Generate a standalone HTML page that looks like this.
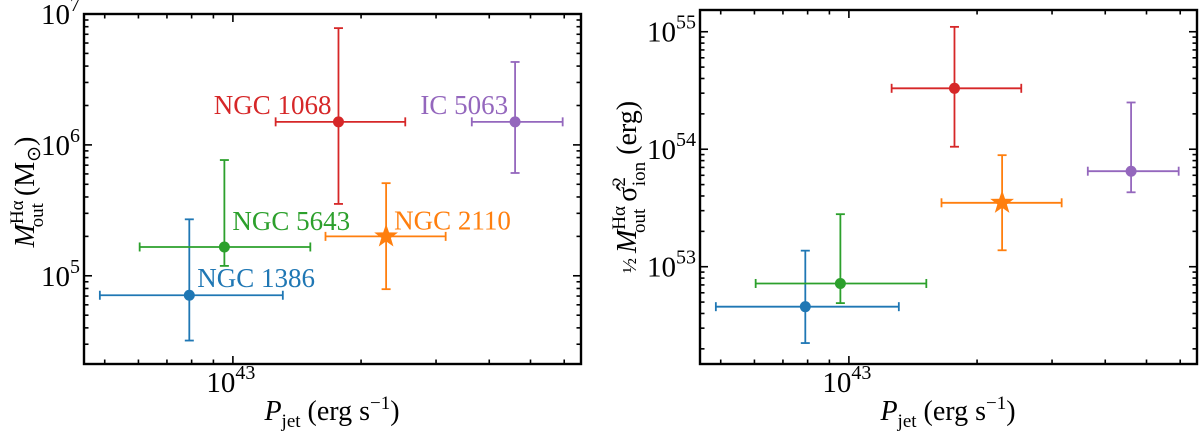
<!DOCTYPE html>
<html><head><meta charset="utf-8">
<style>
html,body{margin:0;padding:0;background:#fff;}
svg{display:block;font-family:"Liberation Serif",serif;}
</style></head>
<body>
<svg id="fig" width="1200" height="438" viewBox="0 0 1200 438" xmlns="http://www.w3.org/2000/svg">
  <g id="left"></g>
  <g id="right"></g>
  <text transform="translate(34,192) rotate(-90)" text-anchor="middle" font-size="28"><tspan font-style="italic">M</tspan><tspan font-size="19" dy="-11">Hα</tspan><tspan font-size="19" dx="-27" dy="20">out</tspan><tspan dy="-9"> (M</tspan><tspan font-size="19" dy="6">⊙</tspan><tspan dy="-6">)</tspan></text>
  <text x="332" y="420" text-anchor="middle" font-size="28"><tspan font-style="italic">P</tspan><tspan font-size="19" dy="7">jet</tspan><tspan dy="-7"> (erg s</tspan><tspan font-size="19" dy="-11">−1</tspan><tspan dy="11">)</tspan></text>
  <text transform="translate(636,187) rotate(-90)" text-anchor="middle" font-size="28"><tspan font-size="20">½ </tspan><tspan font-style="italic">M</tspan><tspan font-size="19" dy="-11">Hα</tspan><tspan font-size="19" dx="-27" dy="20">out</tspan><tspan dy="-9"> σ̂</tspan><tspan font-size="19" dy="-11">2</tspan><tspan font-size="19" dx="-9" dy="20">ion</tspan><tspan dy="-9"> (erg)</tspan></text>
  <text x="948" y="420" text-anchor="middle" font-size="28"><tspan font-style="italic">P</tspan><tspan font-size="19" dy="7">jet</tspan><tspan dy="-7"> (erg s</tspan><tspan font-size="19" dy="-11">−1</tspan><tspan dy="11">)</tspan></text>
</svg>
<script>
// ---- data ----
const galaxies = ["NGC 1386","NGC 5643","NGC 1068","NGC 2110","IC 5063"];
const colors = ["#1f77b4","#2ca02c","#d62728","#ff7f0e","#9467bd"];
const pjet = [7.9e42, 9.55e42, 1.77e43, 2.29e43, 4.6e43];
const pjetLo = [4.87e42, 6.04e42, 1.26e43, 1.65e43, 3.64e43];
const pjetHi = [1.31e43, 1.52e43, 2.54e43, 3.16e43, 5.95e43];
const mass = [7.1e4, 1.66e5, 1.5e6, 2.0e5, 1.5e6];
const massLo = [3.2e4, 1.19e5, 3.54e5, 7.9e4, 6.1e5];
const massHi = [2.7e5, 7.66e5, 7.8e6, 5.1e5, 4.3e6];
const energy = [4.57e52, 7.2e52, 3.3e54, 3.5e53, 6.5e53];
const energyLo = [2.24e52, 4.9e52, 1.05e54, 1.38e53, 4.3e53];
const energyHi = [1.37e53, 2.8e53, 1.1e55, 8.9e53, 2.5e54];
const markers = ["o","o","o","*","o"];
const xTickExps = [43];
const leftYTickExps = [5,6,7];
const rightYTickExps = [53,54,55];

const NS="http://www.w3.org/2000/svg";
function mk(tag, attrs, parent){const e=document.createElementNS(NS,tag);for(const k in attrs)e.setAttribute(k,attrs[k]);parent.appendChild(e);return e;}

function panel(g, box, xr, yr, ys, yLo, yHi, yExps, labels){
  const sx=v=>box.x0+(Math.log10(v)-xr[0])/(xr[1]-xr[0])*(box.x1-box.x0);
  const sy=v=>box.y1-(Math.log10(v)-yr[0])/(yr[1]-yr[0])*(box.y1-box.y0);
  const tg=mk('g',{},g);
  
  
  for(let d=Math.floor(xr[0]);d<=Math.ceil(xr[1]);d++){
    for(let m=1;m<10;m++){
      const v=m*Math.pow(10,d), lv=Math.log10(v);
      if(lv<xr[0]||lv>xr[1])continue;
      const x=sx(v), L=m===1?8:4.5;
      mk('line',{x1:x,x2:x,y1:box.y1,y2:box.y1-L,stroke:'#000','stroke-width':1.6},tg);
      mk('line',{x1:x,x2:x,y1:box.y0,y2:box.y0+L,stroke:'#000','stroke-width':1.6},tg);
    }
  }
  for(let d=Math.floor(yr[0]);d<=Math.ceil(yr[1]);d++){
    for(let m=1;m<10;m++){
      const v=m*Math.pow(10,d), lv=Math.log10(v);
      if(lv<yr[0]||lv>yr[1])continue;
      const y=sy(v), L=m===1?8:4.5;
      mk('line',{x1:box.x0,x2:box.x0+L,y1:y,y2:y,stroke:'#000','stroke-width':1.6},tg);
      mk('line',{x1:box.x1,x2:box.x1-L,y1:y,y2:y,stroke:'#000','stroke-width':1.6},tg);
    }
  }
  xTickExps.forEach(e=>{
    const t=mk('text',{x:sx(Math.pow(10,e))-2,y:392,'text-anchor':'middle','font-size':29},g);
    
    
    t.innerHTML='10<tspan font-size="20" dy="-13">'+e+'</tspan>';
  });
  yExps.forEach(e=>{
    const t=mk('text',{x:box.x0-4,y:sy(Math.pow(10,e))+10,'text-anchor':'end','font-size':29},g);
    
    
    t.innerHTML='10<tspan font-size="20" dy="-13">'+e+'</tspan>';
  });
  galaxies.forEach((name,i)=>{
    const c=colors[i];
    const sg=mk('g',{},g);
    
    
    const x=sx(pjet[i]), y=sy(ys[i]);
    const xl=sx(pjetLo[i]), xh=sx(pjetHi[i]), yl=sy(yLo[i]), yh=sy(yHi[i]);
    const w=1.8, cap=4.5;
    mk('line',{x1:xl,x2:xh,y1:y,y2:y,stroke:c,'stroke-width':w},sg);
    mk('line',{x1:x,x2:x,y1:yl,y2:yh,stroke:c,'stroke-width':w},sg);
    mk('line',{x1:xl,x2:xl,y1:y-cap,y2:y+cap,stroke:c,'stroke-width':w},sg);
    mk('line',{x1:xh,x2:xh,y1:y-cap,y2:y+cap,stroke:c,'stroke-width':w},sg);
    mk('line',{x1:x-cap,x2:x+cap,y1:yl,y2:yl,stroke:c,'stroke-width':w},sg);
    mk('line',{x1:x-cap,x2:x+cap,y1:yh,y2:yh,stroke:c,'stroke-width':w},sg);
    if(markers[i]==='*'){
      let pts=[];
      for(let k=0;k<10;k++){const r=k%2?5:12.5, a=-Math.PI/2+k*Math.PI/5;pts.push((x+r*Math.cos(a)).toFixed(2)+','+(y+r*Math.sin(a)).toFixed(2));}
      mk('polygon',{points:pts.join(' '),fill:c},sg);
    } else {
      mk('circle',{cx:x,cy:y,r:5.5,fill:c},sg);
    }
    if(labels){
      const o=labels[i];
      const t=mk('text',{x:x+o[0],y:y+o[1],'text-anchor':o[2],'font-size':27,fill:c},g);
      
      
      t.textContent=name;
    }
  });
  const f=mk('rect',{x:box.x0,y:box.y0,width:box.x1-box.x0,height:box.y1-box.y0,fill:'none',stroke:'#000','stroke-width':2.4},g);
  
  
}
const xr=[Math.log10(4.47e42), Math.log10(6.57e43)];
panel(document.getElementById('left'),{x0:84,x1:581,y0:14,y1:364},xr,[4.326,7.0],mass,massLo,massHi,leftYTickExps,
  [[8,-8,'start'],[8,-17,'start'],[-7,-8,'end'],[8,-7,'start'],[-7,-8,'end']]);
panel(document.getElementById('right'),{x0:700,x1:1197,y0:10,y1:364},xr,[52.172,55.185],energy,energyLo,energyHi,rightYTickExps,null);
</script>
</body></html>
